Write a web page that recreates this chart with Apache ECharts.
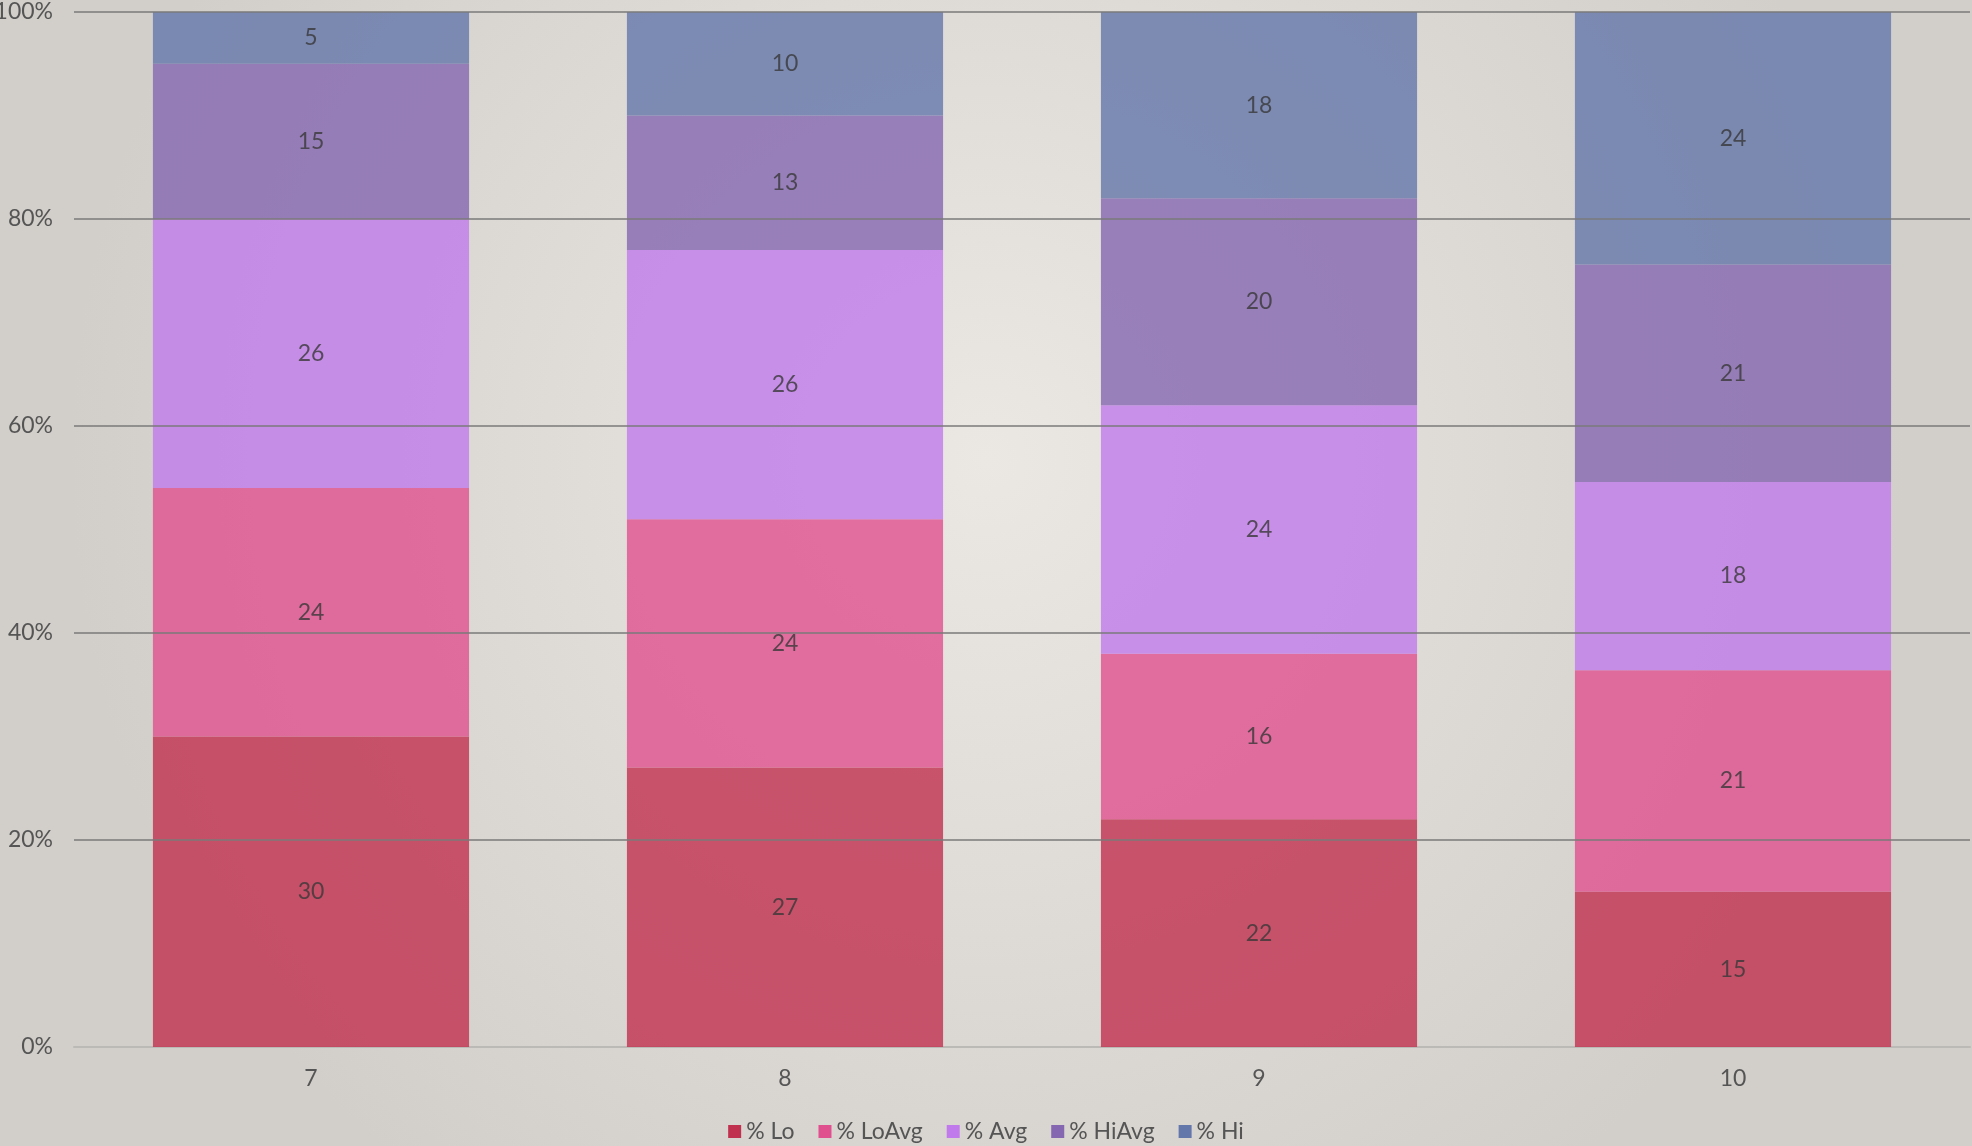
<!DOCTYPE html>
<html>
<head>
<meta charset="utf-8">
<script src="https://cdn.jsdelivr.net/npm/echarts@6/dist/echarts.min.js"></script>
<style>
  html, body { margin: 0; padding: 0; }
  #main { width: 1972px; height: 1146px; }
</style>
</head>
<body>
<div id="main"></div>
<script>
const categories = ['7', '8', '9', '10'];
const seriesNames = ['% Lo', '% LoAvg', '% Avg', '% HiAvg', '% Hi'];
const lo = [30, 27, 22, 15];
const loAvg = [24, 24, 16, 21.4];
const avg = [26, 26, 24, 18.2];
const hiAvg = [15, 13, 20, 21];
const hi = [5, 10, 18, 24.4];
const yTicks = [0, 20, 40, 60, 80, 100];

const colors = ['#c0304f', '#e0508f', '#c07aeb', '#8467b0', '#6477aa'];
const fontFamily = 'Lato, "Open Sans", sans-serif';

const chart = echarts.init(document.getElementById('main'));

const makeSeries = (name, data, i) => ({
  name: name,
  type: 'bar',
  stack: 'total',
  barWidth: '66.7%',
  data: data,
  itemStyle: {color: colors[i], opacity: 0.8},
  label: {
    show: true,
    position: 'inside',
    color: '#383838',
    fontSize: 23,
    fontFamily: fontFamily,
    formatter: p => Math.round(p.value)
  },
  emphasis: {disabled: true}
});

const option = {
  backgroundColor: {
    type: 'radial', x: 0.5, y: 0.4, r: 0.8,
    colorStops: [
      {offset: 0, color: '#ebe8e4'},
      {offset: 1, color: '#d2cfca'}
    ]
  },
  animation: false,
  grid: {left: 74, right: 2, top: 12, bottom: 99, containLabel: false, outerBoundsMode: 'none'},
  legend: {
    top: 1115,
    left: 'center',
    itemWidth: 13,
    itemHeight: 13,
    itemGap: 24,
    icon: 'rect',
    data: seriesNames.map((n, i) => ({name: n, itemStyle: {color: colors[i], opacity: 1}})),
    textStyle: {color: '#555', fontSize: 23, fontFamily: fontFamily}
  },
  xAxis: {
    type: 'category',
    data: categories,
    axisLine: {lineStyle: {color: '#bcbab6', width: 2}},
    axisTick: {show: false},
    axisLabel: {color: '#555', fontSize: 23, fontFamily: fontFamily, margin: 20}
  },
  yAxis: {
    type: 'value',
    min: yTicks[0],
    max: yTicks[yTicks.length - 1],
    interval: 20,
    axisLine: {show: false},
    axisTick: {show: false},
    axisLabel: {color: '#555', fontSize: 23, fontFamily: fontFamily, margin: 21, formatter: '{value}%'},
    splitLine: {showMinLine: false, lineStyle: {color: '#7a7a7a', width: 1.5}},
    z: 5
  },
  series: [lo, loAvg, avg, hiAvg, hi].map((d, i) => makeSeries(seriesNames[i], d, i))
};

chart.setOption(option);
</script>
</body>
</html>
